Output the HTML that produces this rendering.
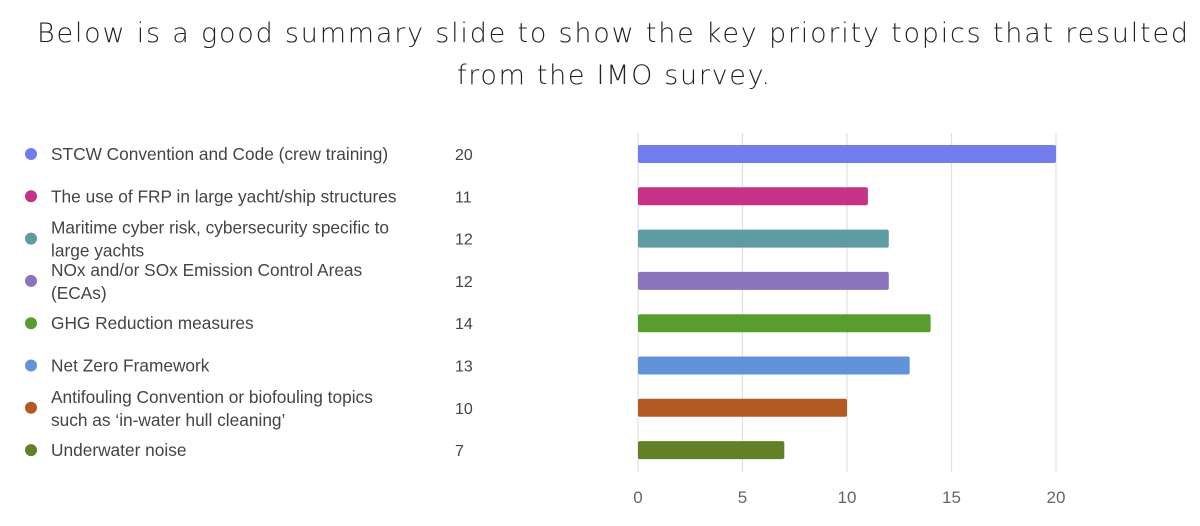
<!DOCTYPE html>
<html><head><meta charset="utf-8"><style>
html,body{margin:0;padding:0;background:#fff;}
body{width:1200px;height:521px;overflow:hidden;position:relative;font-family:"Liberation Sans",sans-serif;}
</style></head><body>
<svg id="svg" width="1200" height="521" xmlns="http://www.w3.org/2000/svg">
<text x="37" y="42" textLength="1151" lengthAdjust="spacing" font-size="27" font-weight="200" fill="#222" font-family="DejaVu Sans ExtraLight, DejaVu Sans, sans-serif">Below is a good summary slide to show the key priority topics that resulted</text>
<text x="457" y="84" textLength="313" lengthAdjust="spacing" font-size="27" font-weight="200" fill="#222" font-family="DejaVu Sans ExtraLight, DejaVu Sans, sans-serif">from the IMO survey.</text>
<g id="grid"></g><g id="bars"></g><g id="legend"></g><g id="ticks"></g>
</svg>
<script>
const categories=[["STCW Convention and Code (crew training)"],["The use of FRP in large yacht/ship structures"],["Maritime cyber risk, cybersecurity specific to","large yachts"],["NOx and/or SOx Emission Control Areas","(ECAs)"],["GHG Reduction measures"],["Net Zero Framework"],["Antifouling Convention or biofouling topics","such as \u2018in-water hull cleaning\u2019"],["Underwater noise"]];
const values=[20,11,12,12,14,13,10,7];
const colors=["#737ceb","#c53287","#5f9ba2","#8c74bd","#579e2f","#6293da","#b35a24","#638026"];
const tickValues=[0,5,10,15,20];
const NS="http://www.w3.org/2000/svg";
const x0=638,x1=1056,xmax=20;
const xs=v=>x0+(x1-x0)*v/xmax;
const yc=i=>154+i*42.3;
function mk(t,a,p){const e=document.createElementNS(NS,t);for(const k in a)e.setAttribute(k,a[k]);p.appendChild(e);return e;}
const grid=document.getElementById('grid'),bars=document.getElementById('bars'),leg=document.getElementById('legend'),tk=document.getElementById('ticks');
tickValues.forEach(v=>{
 const l=mk('line',{x1:xs(v),x2:xs(v),y1:133,y2:472,stroke:'#e0e0e0','stroke-width':1.2},grid);
 
 
 const t=mk('text',{x:xs(v),y:503,'text-anchor':'middle','font-size':17,fill:'#666'},tk);
 t.textContent=v;
 
 
});
values.forEach((v,i)=>{
 const r=mk('rect',{x:x0,y:yc(i)-9,width:xs(v)-x0,height:18,rx:2,fill:colors[i]},bars);
 
 
 const c=mk('circle',{cx:31,cy:yc(i),r:6,fill:colors[i]},leg);
 
 
 const lines=categories[i];
 lines.forEach((s,j)=>{
  const yy=yc(i)+6+(lines.length==2?(j==0?-11:12):0);
  const t=mk('text',{x:51,y:yy,'font-size':17.3,fill:'#444'},leg);
  t.textContent=s;
  
  
 });
 const vt=mk('text',{x:455,y:yc(i)+6,'font-size':16,fill:'#444'},leg);
 vt.textContent=v;
 
 
});
</script>
</body></html>
